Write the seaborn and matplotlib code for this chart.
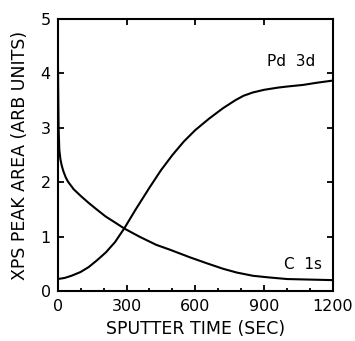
import matplotlib
matplotlib.use("Agg")
import matplotlib.pyplot as plt
import seaborn as sns
import pandas as pd
from matplotlib.ticker import MultipleLocator

# Pd 3d 곡선 (시간 sec, 면적)
pd_time = [0, 30, 60, 100, 135, 170, 210, 250, 290, 340, 400, 450, 500, 550,
           600, 660, 720, 775, 810, 850, 900, 960, 1000, 1070, 1130, 1200]
pd_area = [0.22, 0.24, 0.28, 0.35, 0.44, 0.56, 0.71, 0.90, 1.15, 1.50, 1.90, 2.22,
           2.50, 2.75, 2.96, 3.17, 3.36, 3.51, 3.59, 3.65, 3.70, 3.74, 3.76,
           3.79, 3.83, 3.87]

# C 1s 곡선
c_time = [0, 2, 4, 7, 12, 18, 25, 35, 45, 70, 100, 135, 170, 209, 250, 290,
          356, 429, 489, 576, 650, 720, 780, 851, 920, 1000, 1100, 1200]
c_area = [4.75, 3.8, 3.0, 2.6, 2.42, 2.3, 2.2, 2.09, 2.01, 1.87, 1.75, 1.62,
          1.50, 1.37, 1.26, 1.15, 1.00, 0.85, 0.76, 0.62, 0.51, 0.41, 0.34,
          0.28, 0.25, 0.22, 0.21, 0.20]

sns.set_style("ticks")
plt.rcParams["font.family"] = ["DejaVu Sans"]
plt.rcParams["text.color"] = "black"
plt.rcParams["axes.labelcolor"] = "black"
plt.rcParams["xtick.color"] = "black"
plt.rcParams["ytick.color"] = "black"
plt.rcParams["axes.edgecolor"] = "black"

df_pd = pd.DataFrame({"t": pd_time, "a": pd_area})
df_c = pd.DataFrame({"t": c_time, "a": c_area})

fig = plt.figure(figsize=(3.55, 3.41), dpi=100)
ax = fig.add_axes([0.1625, 0.1466, 0.7755, 0.7974])

sns.lineplot(data=df_pd, x="t", y="a", color="black", linewidth=1.5, ax=ax)
sns.lineplot(data=df_c, x="t", y="a", color="black", linewidth=1.5, ax=ax)

ax.set_xlim(0, 1200)
ax.set_ylim(0, 5)
ax.xaxis.set_major_locator(MultipleLocator(300))
ax.xaxis.set_minor_locator(MultipleLocator(100))
ax.yaxis.set_major_locator(MultipleLocator(1))
ax.tick_params(which="both", direction="in", top=True, right=True,
               width=1.3, labelsize=11.5, pad=5)
ax.tick_params(axis="x", pad=6)
ax.tick_params(which="major", length=4)
ax.tick_params(which="minor", length=2.5)
ax.tick_params(axis="x", which="minor", top=False)
for s in ax.spines.values():
    s.set_linewidth(1.5)

ax.set_xlabel("SPUTTER TIME (SEC)", fontsize=12.5, labelpad=4)
ax.set_ylabel("XPS PEAK AREA (ARB UNITS)", fontsize=12.5, labelpad=8)

ax.text(1016, 4.22, "Pd  3d", fontsize=11, ha="center", va="center")
ax.text(1069, 0.48, "C  1s", fontsize=11, ha="center", va="center")

fig.savefig("out.png", dpi=100)
